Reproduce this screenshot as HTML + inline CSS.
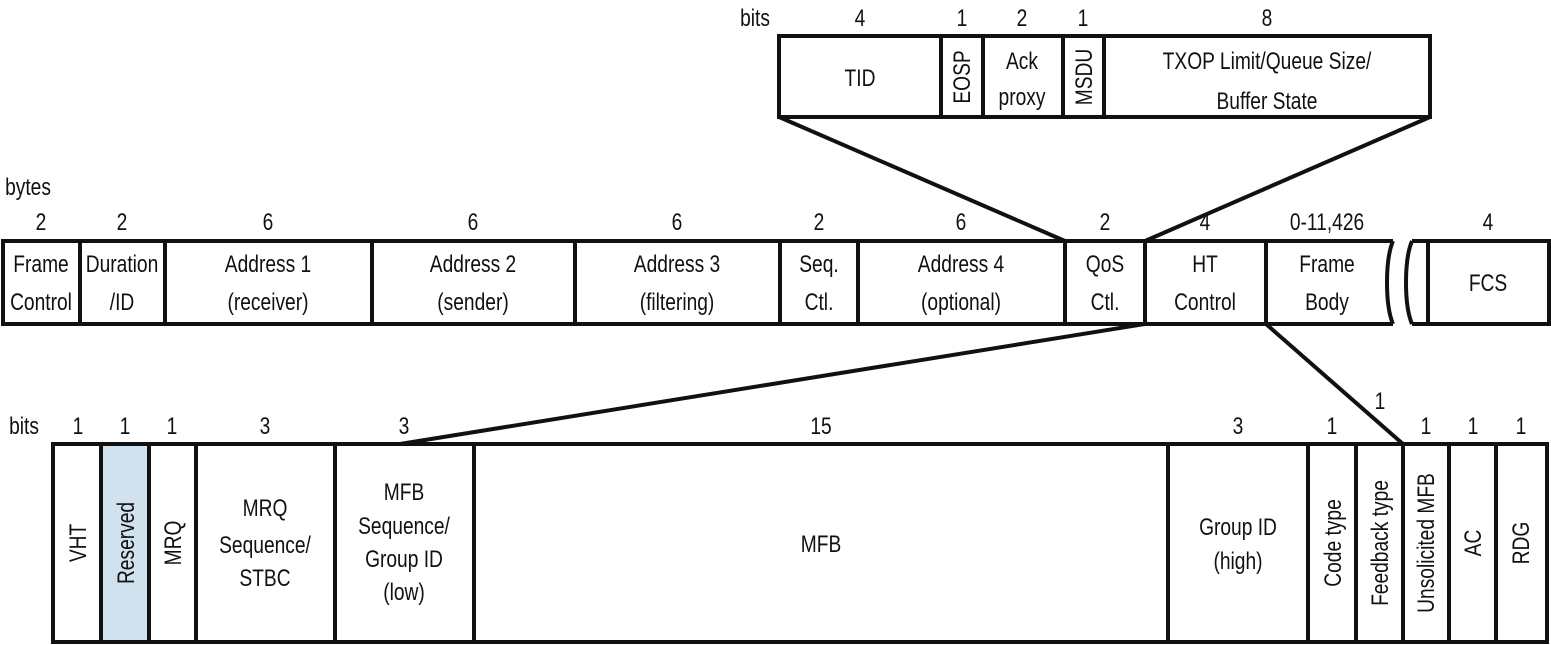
<!DOCTYPE html>
<html><head><meta charset="utf-8"><style>
html,body{margin:0;padding:0;background:#fff;}
svg{display:block;}
text{font-family:"Liberation Sans",sans-serif;font-size:24px;fill:#111;}
</style></head><body>
<svg width="1551" height="645" viewBox="0 0 1551 645" xmlns="http://www.w3.org/2000/svg">
<g stroke="#111" stroke-width="4" fill="none">
<!-- top box -->
<rect x="779" y="36" width="651" height="81"/>
<line x1="941" y1="36" x2="941" y2="117"/><line x1="983" y1="36" x2="983" y2="117"/>
<line x1="1063" y1="36" x2="1063" y2="117"/><line x1="1104" y1="36" x2="1104" y2="117"/>
<line x1="779" y1="117" x2="1065" y2="241"/><line x1="1430" y1="117" x2="1145" y2="241"/>
<!-- middle -->
<path d="M1393 241 H3 V324 H1393"/>
<path d="M1393 241 C1385 260 1385 305 1393 324"/>
<path d="M1412 241 C1404 260 1404 305 1412 324"/>
<path d="M1412 241 H1549 V324 H1412"/>
<line x1="1428" y1="241" x2="1428" y2="324"/>
<line x1="80" y1="241" x2="80" y2="324"/><line x1="165" y1="241" x2="165" y2="324"/>
<line x1="372" y1="241" x2="372" y2="324"/><line x1="575" y1="241" x2="575" y2="324"/>
<line x1="780" y1="241" x2="780" y2="324"/><line x1="858" y1="241" x2="858" y2="324"/>
<line x1="1065" y1="241" x2="1065" y2="324"/><line x1="1145" y1="241" x2="1145" y2="324"/>
<line x1="1266" y1="241" x2="1266" y2="324"/>
<line x1="1145" y1="324" x2="400" y2="444"/><line x1="1266" y1="324" x2="1403" y2="444"/>
<!-- bottom -->
<rect x="101" y="444" width="48" height="198" fill="#cfe2ee" stroke="none"/>
<rect x="53" y="444" width="1494" height="198"/>
<line x1="101" y1="444" x2="101" y2="642"/><line x1="149" y1="444" x2="149" y2="642"/>
<line x1="196" y1="444" x2="196" y2="642"/><line x1="335" y1="444" x2="335" y2="642"/>
<line x1="474" y1="444" x2="474" y2="642"/><line x1="1168" y1="444" x2="1168" y2="642"/>
<line x1="1308" y1="444" x2="1308" y2="642"/><line x1="1356" y1="444" x2="1356" y2="642"/>
<line x1="1403" y1="444" x2="1403" y2="642"/><line x1="1449" y1="444" x2="1449" y2="642"/>
<line x1="1496" y1="444" x2="1496" y2="642"/>
</g>
<g text-anchor="middle">
<!-- top labels -->
<text transform="translate(755,26) scale(.8,1)">bits</text>
<text transform="translate(860,26) scale(.8,1)">4</text>
<text transform="translate(962,26) scale(.8,1)">1</text>
<text transform="translate(1022,26) scale(.8,1)">2</text>
<text transform="translate(1083,26) scale(.8,1)">1</text>
<text transform="translate(1267,26) scale(.8,1)">8</text>
<text transform="translate(860,86) scale(.8,1)">TID</text>
<text transform="translate(970,77) rotate(-90) scale(.8,1)">EOSP</text>
<text transform="translate(1022,69) scale(.8,1)">Ack</text>
<text transform="translate(1022,105) scale(.8,1)">proxy</text>
<text transform="translate(1092,77) rotate(-90) scale(.8,1)">MSDU</text>
<text transform="translate(1267,69) scale(.8,1)">TXOP Limit/Queue Size/</text>
<text transform="translate(1267,109) scale(.8,1)">Buffer State</text>
<!-- middle labels -->
<text transform="translate(28,195) scale(.8,1)">bytes</text>
<text transform="translate(41,230) scale(.8,1)">2</text>
<text transform="translate(122,230) scale(.8,1)">2</text>
<text transform="translate(268,230) scale(.8,1)">6</text>
<text transform="translate(473,230) scale(.8,1)">6</text>
<text transform="translate(677,230) scale(.8,1)">6</text>
<text transform="translate(819,230) scale(.8,1)">2</text>
<text transform="translate(961,230) scale(.8,1)">6</text>
<text transform="translate(1105,230) scale(.8,1)">2</text>
<text transform="translate(1205,230) scale(.8,1)">4</text>
<text transform="translate(1327,230) scale(.8,1)">0-11,426</text>
<text transform="translate(1488,230) scale(.8,1)">4</text>
<text transform="translate(41,272) scale(.8,1)">Frame</text>
<text transform="translate(41,310) scale(.8,1)">Control</text>
<text transform="translate(122,272) scale(.8,1)">Duration</text>
<text transform="translate(122,310) scale(.8,1)">/ID</text>
<text transform="translate(268,272) scale(.8,1)">Address 1</text>
<text transform="translate(268,310) scale(.8,1)">(receiver)</text>
<text transform="translate(473,272) scale(.8,1)">Address 2</text>
<text transform="translate(473,310) scale(.8,1)">(sender)</text>
<text transform="translate(677,272) scale(.8,1)">Address 3</text>
<text transform="translate(677,310) scale(.8,1)">(filtering)</text>
<text transform="translate(819,272) scale(.8,1)">Seq.</text>
<text transform="translate(819,310) scale(.8,1)">Ctl.</text>
<text transform="translate(961,272) scale(.8,1)">Address 4</text>
<text transform="translate(961,310) scale(.8,1)">(optional)</text>
<text transform="translate(1105,272) scale(.8,1)">QoS</text>
<text transform="translate(1105,310) scale(.8,1)">Ctl.</text>
<text transform="translate(1205,272) scale(.8,1)">HT</text>
<text transform="translate(1205,310) scale(.8,1)">Control</text>
<text transform="translate(1327,272) scale(.8,1)">Frame</text>
<text transform="translate(1327,310) scale(.8,1)">Body</text>
<text transform="translate(1488,291) scale(.8,1)">FCS</text>
<!-- bottom labels -->
<text transform="translate(1380,409) scale(.8,1)">1</text>
<text transform="translate(24,434) scale(.8,1)">bits</text>
<text transform="translate(78,434) scale(.8,1)">1</text>
<text transform="translate(125,434) scale(.8,1)">1</text>
<text transform="translate(172,434) scale(.8,1)">1</text>
<text transform="translate(265,434) scale(.8,1)">3</text>
<text transform="translate(404,434) scale(.8,1)">3</text>
<text transform="translate(821,434) scale(.8,1)">15</text>
<text transform="translate(1238,434) scale(.8,1)">3</text>
<text transform="translate(1332,434) scale(.8,1)">1</text>
<text transform="translate(1426,434) scale(.8,1)">1</text>
<text transform="translate(1473,434) scale(.8,1)">1</text>
<text transform="translate(1521,434) scale(.8,1)">1</text>
<text transform="translate(86,543) rotate(-90) scale(.8,1)">VHT</text>
<text transform="translate(134,543) rotate(-90) scale(.8,1)">Reserved</text>
<text transform="translate(181,543) rotate(-90) scale(.8,1)">MRQ</text>
<text transform="translate(265,516) scale(.8,1)">MRQ</text>
<text transform="translate(265,553) scale(.8,1)">Sequence/</text>
<text transform="translate(265,586) scale(.8,1)">STBC</text>
<text transform="translate(404,500) scale(.8,1)">MFB</text>
<text transform="translate(404,534) scale(.8,1)">Sequence/</text>
<text transform="translate(404,567) scale(.8,1)">Group ID</text>
<text transform="translate(404,600) scale(.8,1)">(low)</text>
<text transform="translate(821,552) scale(.8,1)">MFB</text>
<text transform="translate(1238,535) scale(.8,1)">Group ID</text>
<text transform="translate(1238,569) scale(.8,1)">(high)</text>
<text transform="translate(1341,543) rotate(-90) scale(.8,1)">Code type</text>
<text transform="translate(1388,543) rotate(-90) scale(.8,1)">Feedback type</text>
<text transform="translate(1434,543) rotate(-90) scale(.8,1)">Unsolicited MFB</text>
<text transform="translate(1481,543) rotate(-90) scale(.8,1)">AC</text>
<text transform="translate(1529,543) rotate(-90) scale(.8,1)">RDG</text>
</g>
</svg>
</body></html>
